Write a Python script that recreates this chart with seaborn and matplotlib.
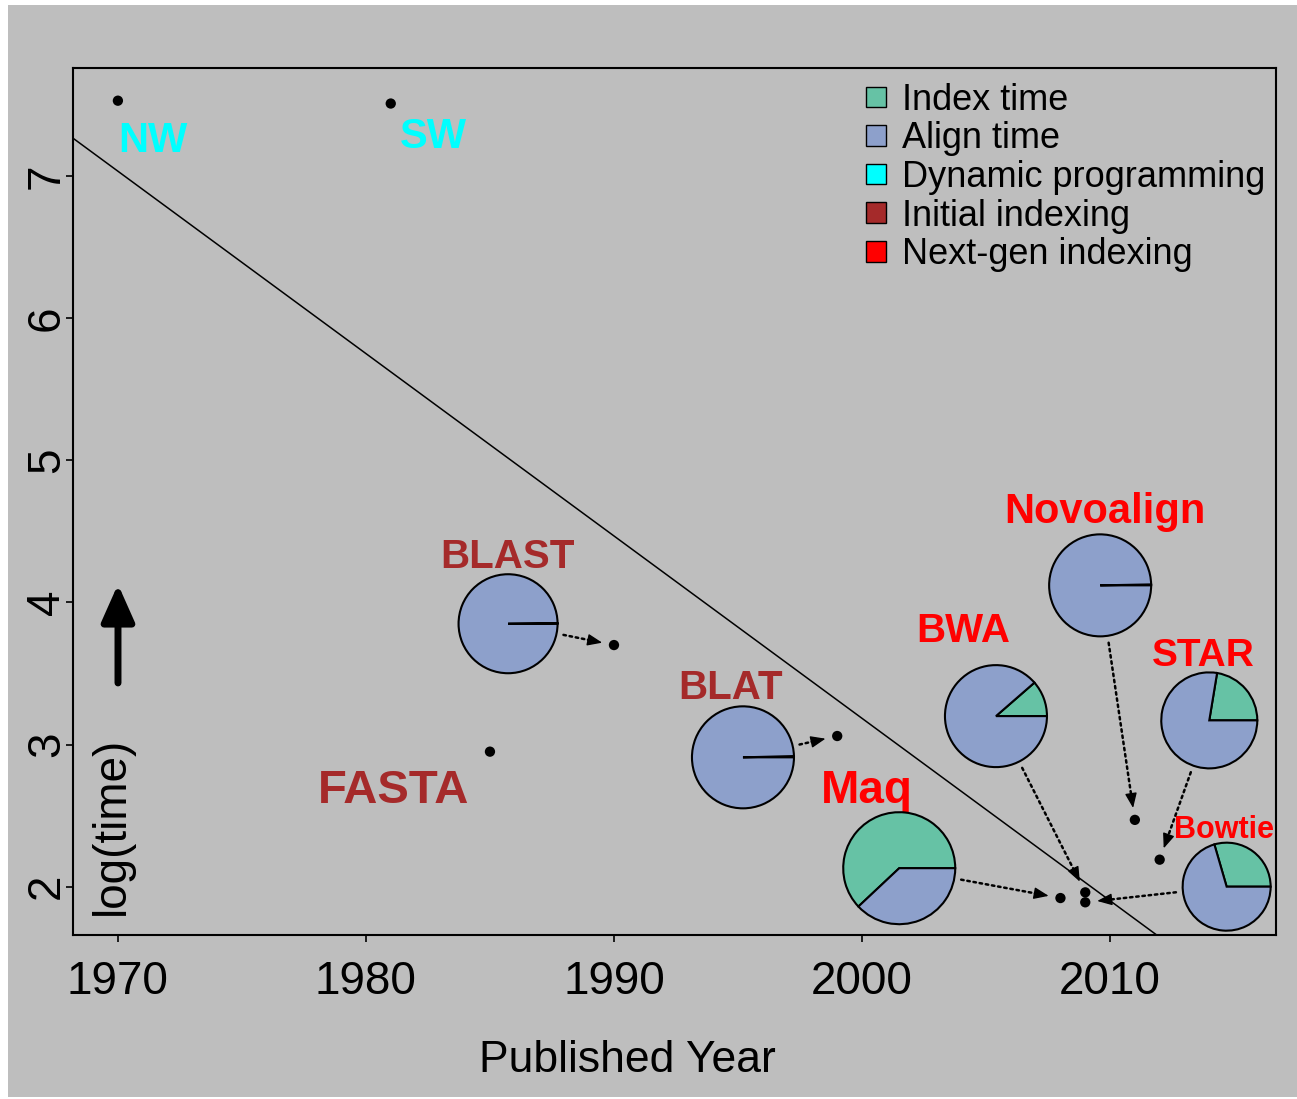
import numpy as np
import pandas as pd
import matplotlib
matplotlib.use("Agg")
import matplotlib.pyplot as plt
from matplotlib.patches import Patch, Rectangle
import seaborn as sns

# aligners, year published and log(run time)
tools = ["NW", "SW", "FASTA", "BLAST", "BLAT", "Maq", "BWA", "Bowtie", "Novoalign", "STAR"]
year = [1970, 1981, 1985, 1990, 1999, 2008, 2009, 2009, 2011, 2012]
logtime = [7.53, 7.51, 2.95, 3.70, 3.06, 1.92, 1.96, 1.89, 2.47, 2.19]
group = ["Dynamic programming", "Dynamic programming",
         "Initial indexing", "Initial indexing", "Initial indexing",
         "Next-gen indexing", "Next-gen indexing", "Next-gen indexing",
         "Next-gen indexing", "Next-gen indexing"]

# share of run time spent on the index (rest = align time)
pie_tools = ["BLAST", "BLAT", "Maq", "BWA", "Novoalign", "STAR", "Bowtie"]
index_share = [0.002, 0.004, 0.62, 0.114, 0.003, 0.224, 0.295]

legend_labels = ["Index time", "Align time", "Dynamic programming",
                 "Initial indexing", "Next-gen indexing"]
legend_colors = ["#66C2A5", "#8DA0CB", "#00FFFF", "#A52A2A", "#FF0000"]
group_colors = dict(zip(legend_labels[2:], legend_colors[2:]))

# layout: where the tool names and pies sit (data units), pie radius in px
label_x = [1971.4, 1982.7, 1981.1, 1985.7, 1994.7, 2000.2, 2004.1, 2014.6, 2009.8, 2013.75]
label_y = [7.17, 7.20, 2.59, 4.24, 3.32, 2.59, 3.72, 2.345, 4.56, 3.55]
label_size = [30, 30, 34, 29, 29, 33, 29, 22, 30, 28]
pie_x = [1985.73, 1995.2, 2001.5, 2005.4, 2009.6, 2014.0, 2014.7]
pie_y = [3.85, 2.91, 2.13, 3.20, 4.12, 3.17, 2.00]
pie_r = [49.5, 51, 56, 51, 51, 48, 44]

df = pd.DataFrame({"tool": tools, "year": year, "logtime": logtime, "group": group})

sns.set_style("ticks")
plt.rcParams["font.family"] = ["Liberation Sans", "DejaVu Sans"]
plt.rcParams.update({"text.color": "black", "axes.labelcolor": "black",
                     "xtick.color": "black", "ytick.color": "black"})
bg = "#BEBEBE"

W, H = 1297, 1099
fig = plt.figure(figsize=(W / 100, H / 100), dpi=100, facecolor="white")
fig.patches.append(Rectangle((8 / W, 2 / H), 1 - 8 / W, 1 - 7 / H, transform=fig.transFigure,
                             facecolor=bg, edgecolor="none", zorder=-10))
ax = fig.add_axes([73 / W, 1 - 935 / H, 1203 / W, 867 / H])
ax.set_facecolor(bg)

xlim = (1968.19, 2016.69)
ylim = (1.66, 7.76)
ax.set_xlim(xlim)
ax.set_ylim(ylim)

sns.scatterplot(data=df, x="year", y="logtime", color="black", s=55, edgecolor="none",
                legend=False, ax=ax, zorder=3)
sns.regplot(data=df, x="year", y="logtime", scatter=False, ci=None, truncate=False,
            line_kws=dict(color="black", lw=1.1), ax=ax)
ax.set_xlim(xlim)
ax.set_ylim(ylim)

for sp in ax.spines.values():
    sp.set_visible(True)
    sp.set_linewidth(1.5)
    sp.set_color("black")

ax.set_xticks([1970, 1980, 1990, 2000, 2010])
ax.set_yticks([2, 3, 4, 5, 6, 7])
ax.tick_params(axis="both", direction="out", length=5, width=1.2, labelsize=33,
               color="black", labelcolor="black")
ax.tick_params(axis="x", pad=13)
ax.tick_params(axis="y", pad=-2)
for t in ax.get_yticklabels():
    t.set_rotation(90)
    t.set_va("center")

ax.set_xlabel("Published Year", fontsize=32, va="center")
ax.xaxis.set_label_coords(0.461, -0.1445)
ax.set_ylabel("log(time)", fontsize=33, va="center", ha="center")
ax.yaxis.set_label_coords(0.0324, 0.1257)

# arrow above the y label
ax.annotate("", xy=(0.0374, 0.4045), xytext=(0.0374, 0.2907), xycoords="axes fraction",
            arrowprops=dict(arrowstyle="-|>,head_length=0.45,head_width=0.2", lw=5,
                            color="black", mutation_scale=50, shrinkA=0, shrinkB=0))

# tool names
for i, name in enumerate(tools):
    ax.text(label_x[i], label_y[i], name, color=group_colors[group[i]], fontsize=label_size[i],
            fontweight="bold", ha="center", va="baseline")

# legend
handles = [Patch(facecolor=c, edgecolor="black", linewidth=1.0, label=l)
           for l, c in zip(legend_labels, legend_colors)]
ax.legend(handles=handles, loc="upper left", bbox_to_anchor=(0.659, 0.983), frameon=False,
          fontsize=26, handlelength=0.55, handleheight=0.5, handletextpad=0.45,
          labelspacing=0.1, borderaxespad=0, borderpad=0)

# pies with dotted arrows to their points
gap_b = 12   # px between arrow tip and point
head = 11    # px, arrow head length
for j, name in enumerate(pie_tools):
    k = tools.index(name)
    px, py = ax.transData.transform((pie_x[j], pie_y[j]))
    qx, qy = ax.transData.transform((year[k], logtime[k]))
    dist = np.hypot(qx - px, qy - py)
    R = pie_r[j] * 1.03
    pax = fig.add_axes([(px - R) / W, (py - R) / H, 2 * R / W, 2 * R / H])
    pax.pie([index_share[j], 1 - index_share[j]], colors=legend_colors[:2], startangle=0,
            counterclock=True, radius=1,
            wedgeprops=dict(edgecolor="black", linewidth=1.5))
    pax.set_xlim(-1.03, 1.03)
    pax.set_ylim(-1.03, 1.03)
    pax.patch.set_alpha(0)
    # dotted shaft
    ax.annotate("", xy=(year[k], logtime[k]), xytext=(pie_x[j], pie_y[j]),
                arrowprops=dict(arrowstyle="-", linestyle=(0, (1, 1.5)), lw=1.8,
                                color="black",
                                shrinkA=(pie_r[j] + 7) * 0.72,
                                shrinkB=(gap_b + head - 2) * 0.72))
    # solid head
    ax.annotate("", xy=(year[k], logtime[k]), xytext=(pie_x[j], pie_y[j]),
                arrowprops=dict(arrowstyle="-|>,head_length=0.75,head_width=0.3",
                                lw=1.0, color="black", mutation_scale=12,
                                shrinkA=(dist - gap_b - head) * 0.72,
                                shrinkB=gap_b * 0.72))

fig.savefig("out.png", dpi=100, facecolor=fig.get_facecolor())
